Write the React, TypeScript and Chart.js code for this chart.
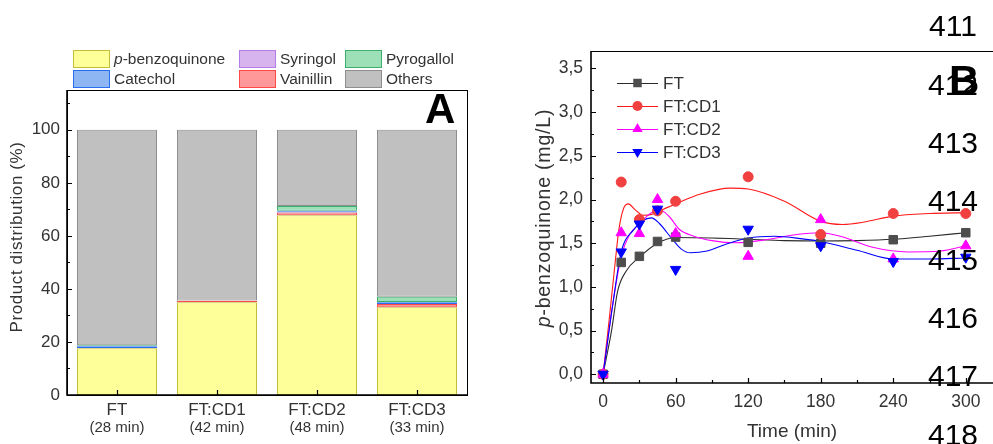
import React, { useEffect, useRef } from "react";
import { Chart, registerables } from "chart.js";

Chart.register(...registerables);

const FONT = "'Liberation Sans', Arial, Helvetica, sans-serif";

// ---------- Panel A data ----------
const categories = ["FT", "FT:CD1", "FT:CD2", "FT:CD3"];
const reactionTimes = ["(28 min)", "(42 min)", "(48 min)", "(33 min)"];
const pBenzoquinone = [17.6, 35.0, 67.8, 33.1];
const vainillin = [0.1, 0.5, 1.0, 1.2];
const catechol = [0.7, 0.05, 0.5, 0.7];
const syringol = [0.05, 0.02, 0.2, 0.1];
const pyrogallol = [0.35, 0.05, 1.8, 1.9];
const others = [81.2, 64.38, 28.7, 63.0];
const percentTicks = [0, 20, 40, 60, 80, 100];
const percentMinorTicks = [10, 30, 50, 70, 90, 110];

// ---------- Panel B data ----------
const sampleTimes = [0, 15, 30, 45, 60, 120, 180, 240, 300];
const ftValues = [0, 1.28, 1.35, 1.52, 1.57, 1.51, 1.5, 1.54, 1.62];
const cd1Values = [0, 2.2, 1.77, 1.87, 1.98, 2.26, 1.6, 1.84, 1.84];
const cd2Values = [0, 1.62, 1.61, 2.0, 1.61, 1.35, 1.77, 1.32, 1.47];
const cd3Values = [0, 1.4, 1.72, 1.89, 1.2, 1.66, 1.47, 1.29, 1.34];

const ftFitTimes = [0, 7, 12, 19, 30, 45, 60, 90, 120, 150, 180, 210, 240, 270, 300];
const ftFitValues = [0, 0.5, 0.95, 1.18, 1.34, 1.5, 1.565, 1.56, 1.545, 1.53, 1.525, 1.53, 1.545, 1.58, 1.62];
const cd1FitTimes = [0, 5, 10, 13, 17, 21, 26, 33, 40, 50, 60, 80, 105, 120, 150, 180, 198, 215, 240, 270, 300];
const cd1FitValues = [0, 0.62, 1.28, 1.65, 1.9, 1.95, 1.89, 1.82, 1.83, 1.89, 1.95, 2.06, 2.13, 2.12, 1.98, 1.75, 1.715, 1.74, 1.81, 1.84, 1.85];
const cd2FitTimes = [0, 8, 15, 22, 30, 40, 47, 55, 63, 75, 90, 110, 135, 160, 180, 196, 224, 252, 279, 300];
const cd2FitValues = [0, 0.8, 1.35, 1.6, 1.72, 1.85, 1.88, 1.8, 1.66, 1.58, 1.53, 1.505, 1.54, 1.6, 1.62, 1.58, 1.45, 1.4, 1.41, 1.47];
const cd3FitTimes = [0, 8, 15, 25, 33, 40, 47, 53, 60, 65, 72, 86, 100, 120, 142, 165, 180, 210, 240, 270, 300];
const cd3FitValues = [0, 0.8, 1.4, 1.65, 1.76, 1.79, 1.72, 1.62, 1.5, 1.43, 1.39, 1.41, 1.48, 1.56, 1.58, 1.55, 1.52, 1.42, 1.32, 1.32, 1.33];

const timeTicks = [0, 60, 120, 180, 240, 300];
const timeMinorTicks = [30, 90, 150, 210, 270];
const concTicks = [0, 0.5, 1.0, 1.5, 2.0, 2.5, 3.0, 3.5];
const concMinorTicks = [0.25, 0.75, 1.25, 1.75, 2.25, 2.75, 3.25];

const lineNumbers = ["411", "412", "413", "414", "415", "416", "417", "418"];
const lineNumberCenters = [26, 84.5, 143, 201, 260, 318, 376, 435];

// ---------- styles ----------
const barSeries = [
  { label: "p-benzoquinone", data: pBenzoquinone, fill: "#FFFF99", border: "#C2BE3A" },
  { label: "Vainillin", data: vainillin, fill: "#FF9999", border: "#FF4848" },
  { label: "Catechol", data: catechol, fill: "#8DB6F2", border: "#2A6EF0" },
  { label: "Syringol", data: syringol, fill: "#D8B4EE", border: "#B57BE6" },
  { label: "Pyrogallol", data: pyrogallol, fill: "#9DE0B8", border: "#3DB070" },
  { label: "Others", data: others, fill: "#C0C0C0", border: "#8E8E8E" },
];
const legendAOrder = ["p-benzoquinone", "Syringol", "Pyrogallol", "Catechol", "Vainillin", "Others"];

const lineSeries = [
  { label: "FT", times: sampleTimes, values: ftValues, fitT: ftFitTimes, fitV: ftFitValues, line: "#2a2a2a", marker: "#4d4d4d", style: "rect", radius: 6, rotation: 0 },
  { label: "FT:CD1", times: sampleTimes, values: cd1Values, fitT: cd1FitTimes, fitV: cd1FitValues, line: "#ff1a1a", marker: "#f04040", style: "circle", radius: 5, rotation: 0 },
  { label: "FT:CD2", times: sampleTimes, values: cd2Values, fitT: cd2FitTimes, fitV: cd2FitValues, line: "#ff00ff", marker: "#ff00ff", style: "triangle", radius: 6, rotation: 0 },
  { label: "FT:CD3", times: sampleTimes, values: cd3Values, fitT: cd3FitTimes, fitV: cd3FitValues, line: "#0000ff", marker: "#0000ff", style: "triangle", radius: 6, rotation: 180 },
];

function drawMarker(ctx: CanvasRenderingContext2D, style: string, rotation: number, x: number, y: number, r: number, color: string) {
  ctx.save();
  ctx.fillStyle = color;
  ctx.beginPath();
  if (style === "rect") {
    const s = Math.SQRT1_2 * r;
    ctx.rect(x - s, y - s, 2 * s, 2 * s);
  } else if (style === "circle") {
    ctx.arc(x, y, r, 0, Math.PI * 2);
  } else {
    const dir = rotation === 180 ? -1 : 1;
    for (let k = 0; k < 3; k++) {
      const ang = (-Math.PI / 2) + (k * 2 * Math.PI) / 3;
      const px = x + Math.cos(ang) * r;
      const py = y + Math.sin(ang) * r * dir;
      if (k === 0) ctx.moveTo(px, py);
      else ctx.lineTo(px, py);
    }
    ctx.closePath();
  }
  ctx.fill();
  ctx.restore();
}

export default function App() {
  const refA = useRef<HTMLCanvasElement>(null);
  const refB = useRef<HTMLCanvasElement>(null);

  useEffect(() => {
    const frameA = {
      id: "frameA",
      afterDraw(chart: any) {
        const { ctx, chartArea: a, scales } = chart;
        const x = scales.x;
        const y = scales.y;
        ctx.save();
        ctx.strokeStyle = "#000";
        ctx.lineWidth = 1;
        ctx.strokeRect(a.left + 0.5, a.top + 0.5, a.right - a.left, a.bottom - a.top);
        ctx.lineWidth = 1.6;
        ctx.beginPath();
        ctx.moveTo(a.left, a.top);
        ctx.lineTo(a.left, a.bottom);
        ctx.lineTo(a.right + 1, a.bottom);
        ctx.stroke();
        ctx.lineWidth = 1.2;
        ctx.beginPath();
        percentTicks.forEach((v) => {
          const py = Math.round(y.getPixelForValue(v)) + 0.5;
          ctx.moveTo(a.left, py);
          ctx.lineTo(a.left + 5, py);
        });
        percentMinorTicks.forEach((v) => {
          const py = Math.round(y.getPixelForValue(v)) + 0.5;
          ctx.moveTo(a.left, py);
          ctx.lineTo(a.left + 3, py);
        });
        categories.forEach((_, i) => {
          const px = Math.round(x.getPixelForValue(i)) + 0.5;
          ctx.moveTo(px, a.bottom);
          ctx.lineTo(px, a.bottom - 5);
        });
        ctx.stroke();
        ctx.fillStyle = "#333";
        ctx.textAlign = "center";
        ctx.textBaseline = "middle";
        categories.forEach((c, i) => {
          const px = x.getPixelForValue(i);
          ctx.font = `17px ${FONT}`;
          ctx.fillText(c, px, a.bottom + 15);
          ctx.font = `15px ${FONT}`;
          ctx.fillText(reactionTimes[i], px, a.bottom + 33);
        });
        ctx.translate(17, 237);
        ctx.rotate(-Math.PI / 2);
        ctx.font = `17px ${FONT}`;
        (ctx as any).letterSpacing = "0.6px";
        ctx.fillText("Product distribution (%)", 0, 0);
        ctx.restore();
      },
    };

    const chartA = new Chart(refA.current as HTMLCanvasElement, {
      type: "bar",
      data: {
        labels: categories,
        datasets: barSeries.map((s) => ({
          label: s.label,
          data: s.data,
          backgroundColor: s.fill,
          borderColor: s.border,
          borderWidth: 1,
          borderSkipped: false,
          categoryPercentage: 1,
          barPercentage: 0.8,
        })),
      },
      options: {
        responsive: false,
        animation: false,
        devicePixelRatio: 1,
        layout: { padding: { left: 0, top: 90, right: 13, bottom: 9 } },
        plugins: { legend: { display: false }, tooltip: { enabled: false } },
        scales: {
          x: {
            stacked: true,
            afterFit: (s: any) => { s.height = 40; },
            ticks: { display: false },
            grid: { display: false, drawTicks: false },
            border: { display: false },
          },
          y: {
            stacked: true,
            min: 0,
            max: 115,
            afterFit: (s: any) => { s.width = 67; },
            afterBuildTicks: (s: any) => { s.ticks = percentTicks.map((v) => ({ value: v })); },
            ticks: { padding: 7, color: "#333", font: { family: FONT, size: 17 } },
            grid: { display: false, drawTicks: false },
            border: { display: false },
          },
        },
      } as any,
      plugins: [frameA],
    });

    const frameB = {
      id: "frameB",
      afterDraw(chart: any) {
        const { ctx, chartArea: a, scales } = chart;
        const x = scales.x;
        const y = scales.y;
        ctx.save();
        ctx.strokeStyle = "#000";
        ctx.lineWidth = 1;
        ctx.beginPath();
        ctx.moveTo(a.left, a.top + 0.5);
        ctx.lineTo(a.right + 20, a.top + 0.5);
        ctx.stroke();
        ctx.lineWidth = 1.6;
        ctx.beginPath();
        ctx.moveTo(a.left, a.top);
        ctx.lineTo(a.left, a.bottom);
        ctx.lineTo(a.right + 20, a.bottom);
        ctx.stroke();
        ctx.lineWidth = 1.2;
        ctx.beginPath();
        concTicks.forEach((v) => {
          const py = Math.round(y.getPixelForValue(v)) + 0.5;
          ctx.moveTo(a.left, py);
          ctx.lineTo(a.left + 5, py);
        });
        concMinorTicks.forEach((v) => {
          const py = Math.round(y.getPixelForValue(v)) + 0.5;
          ctx.moveTo(a.left, py);
          ctx.lineTo(a.left + 3, py);
        });
        timeTicks.forEach((v) => {
          const px = Math.round(x.getPixelForValue(v)) + 0.5;
          ctx.moveTo(px, a.bottom);
          ctx.lineTo(px, a.bottom - 5);
        });
        timeMinorTicks.forEach((v) => {
          const px = Math.round(x.getPixelForValue(v)) + 0.5;
          ctx.moveTo(px, a.bottom);
          ctx.lineTo(px, a.bottom - 3);
        });
        ctx.stroke();

        // legend
        ctx.textAlign = "left";
        ctx.textBaseline = "middle";
        ctx.font = `17px ${FONT}`;
        lineSeries.forEach((s, i) => {
          const ly = a.top + 32 + i * 23;
          const x0 = a.left + 26;
          const x1 = a.left + 67;
          ctx.strokeStyle = s.line;
          ctx.lineWidth = 1;
          ctx.beginPath();
          ctx.moveTo(x0, ly + 0.5);
          ctx.lineTo(x1, ly + 0.5);
          ctx.stroke();
          drawMarker(ctx, s.style, s.rotation, (x0 + x1) / 2, ly, s.radius, s.marker);
          ctx.fillStyle = "#333";
          ctx.fillText(s.label, x1 + 5, ly + 1);
        });

        // axis titles
        ctx.fillStyle = "#333";
        ctx.textAlign = "center";
        ctx.font = `19px ${FONT}`;
        ctx.fillText("Time (min)", 312, 432);
        ctx.translate(65, 218);
        ctx.rotate(-Math.PI / 2);
        (ctx as any).letterSpacing = "0.8px";
        ctx.font = `italic 19.5px ${FONT}`;
        const wp = ctx.measureText("p").width;
        ctx.font = `19.5px ${FONT}`;
        const rest = "-benzoquinone (mg/L)";
        const wr = ctx.measureText(rest).width;
        const start = -(wp + wr) / 2;
        ctx.textAlign = "left";
        ctx.font = `italic 19.5px ${FONT}`;
        ctx.fillText("p", start, 0);
        ctx.font = `19.5px ${FONT}`;
        ctx.fillText(rest, start + wp, 0);
        ctx.restore();
      },
    };

    const datasetsB: any[] = [];
    lineSeries.forEach((s, i) => {
      datasetsB.push({
        label: s.label + " fit",
        data: s.fitT.map((t, k) => ({ x: t, y: s.fitV[k] })),
        showLine: true,
        pointRadius: 0,
        borderColor: s.line,
        borderWidth: 1.1,
        cubicInterpolationMode: "monotone",
        order: 20 - i,
      });
      datasetsB.push({
        label: s.label,
        data: s.times.map((t, k) => ({ x: t, y: s.values[k] })),
        showLine: false,
        pointStyle: s.style,
        rotation: s.rotation,
        pointRadius: s.radius,
        backgroundColor: s.marker,
        borderColor: s.marker,
        borderWidth: 1,
        order: 10 - i,
      });
    });

    const chartB = new Chart(refB.current as HTMLCanvasElement, {
      type: "scatter",
      data: { datasets: datasetsB },
      options: {
        responsive: false,
        animation: false,
        devicePixelRatio: 1,
        layout: { padding: { left: 0, top: 51, right: 14, bottom: 21 } },
        plugins: { legend: { display: false }, tooltip: { enabled: false } },
        scales: {
          x: {
            type: "linear",
            min: -10,
            max: 325,
            afterFit: (s: any) => { s.height = 40; },
            afterBuildTicks: (s: any) => { s.ticks = timeTicks.map((v) => ({ value: v })); },
            ticks: { padding: 9, color: "#333", maxRotation: 0, font: { family: FONT, size: 17.5 } },
            grid: { display: false, drawTicks: false },
            border: { display: false },
          },
          y: {
            type: "linear",
            min: -0.1,
            max: 3.7,
            afterFit: (s: any) => { s.width = 111; },
            afterBuildTicks: (s: any) => { s.ticks = concTicks.map((v) => ({ value: v })); },
            ticks: {
              padding: 8,
              color: "#333",
              font: { family: FONT, size: 17.5 },
              callback: (v: any) => Number(v).toFixed(1).replace(".", ","),
            },
            grid: { display: false, drawTicks: false },
            border: { display: false },
          },
        },
      } as any,
      plugins: [frameB],
    });

    return () => {
      chartA.destroy();
      chartB.destroy();
    };
  }, []);

  const legendCols = [73, 239, 345];
  const legendRows = [50, 70];

  return (
    <div style={{ position: "fixed", left: 0, top: 0, width: 993, height: 444, overflow: "hidden", background: "#fff", fontFamily: FONT }}>
      <canvas ref={refA} width={480} height={444} style={{ position: "absolute", left: 0, top: 0 }} />
      <canvas ref={refB} width={530} height={444} style={{ position: "absolute", left: 480, top: 0 }} />
      {legendAOrder.map((name, idx) => {
        const s = barSeries.find((b) => b.label === name)!;
        const col = idx % 3;
        const row = Math.floor(idx / 3);
        const left = legendCols[col];
        const top = legendRows[row];
        const italicP = name.startsWith("p-");
        return (
          <React.Fragment key={name}>
            <div style={{ position: "absolute", left, top, width: 35, height: 16, background: s.fill, border: `1px solid ${s.border}` }} />
            <div style={{ position: "absolute", left: left + 41, top: top - 1, fontSize: 15.5, lineHeight: "19px", color: "#333", whiteSpace: "nowrap" }}>
              {italicP ? (<><i>p</i>{name.slice(1)}</>) : name}
            </div>
          </React.Fragment>
        );
      })}
      {lineNumbers.map((n, i) => (
        <div key={n} style={{ position: "absolute", left: 928, width: 50, top: lineNumberCenters[i] - 14.7, fontSize: 30, lineHeight: "30px", textAlign: "center", color: "#000" }}>
          {n}
        </div>
      ))}
      <div style={{ position: "absolute", left: 425, top: 109 - 20.6, fontSize: 42, lineHeight: "42px", fontWeight: "bold", color: "#000" }}>A</div>
      <div style={{ position: "absolute", left: 949, top: 81 - 20.6, fontSize: 42, lineHeight: "42px", fontWeight: "bold", color: "#000" }}>B</div>
    </div>
  );
}
